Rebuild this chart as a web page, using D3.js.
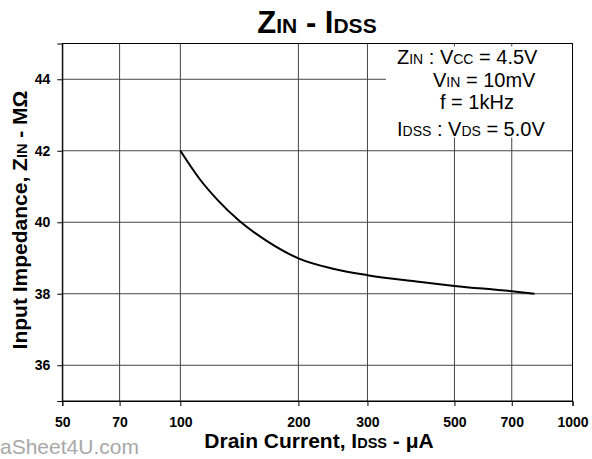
<!DOCTYPE html>
<html><head><meta charset="utf-8">
<script src="https://cdn.jsdelivr.net/npm/d3@7"></script>
<style>body{margin:0;background:#fff}svg{display:block;font-family:Arial,"Liberation Sans",sans-serif}</style>
</head><body>
<svg id="c" width="592" height="459"></svg>
<script>
// Data
const idss = [100, 112, 124, 142, 166, 200, 245, 300, 400, 500, 700, 800];
const zin  = [42.0, 41.21, 40.64, 40.02, 39.48, 38.99, 38.70, 38.52, 38.34, 38.22, 38.07, 38.0];
const xTicks = [50, 70, 100, 200, 300, 500, 700, 1000];
const yTicks = [36, 38, 40, 42, 44];
const xGrid = [70, 100, 200, 300, 500, 700];

const svg = d3.select("#c");
const L = 62.3, R = 572.5, T = 43.5, B = 401;
const x = d3.scaleLog().domain([50, 1000]).range([L, R]);
const y = d3.scaleLinear().domain([35, 45]).range([B, T]);

// grid
svg.append("g").selectAll("line").data(xGrid).join("line")
  .attr("x1", d => x(d)).attr("x2", d => x(d)).attr("y1", T).attr("y2", B)
  .attr("stroke", "#444").attr("stroke-width", 1);
svg.append("g").selectAll("line").data(yTicks).join("line")
  .attr("x1", L).attr("x2", R).attr("y1", d => y(d)).attr("y2", d => y(d))
  .attr("stroke", "#444").attr("stroke-width", 1);

// legend box background (covers grid)
svg.append("rect").attr("x", 386).attr("y", 46.5).attr("width", 186).attr("height", 91).attr("fill", "#fff");

// frame
svg.append("rect").attr("x", L).attr("y", T).attr("width", R - L).attr("height", B - T)
  .attr("fill", "none").attr("stroke", "#000").attr("stroke-width", 1);

// axes
const xAxis = d3.axisBottom(x).tickValues(xTicks).tickFormat(d3.format("d")).tickSize(5).tickPadding(11);
const gx = svg.append("g").attr("transform", `translate(0,${B})`).call(xAxis);
gx.select(".domain").attr("stroke", "#000");
gx.selectAll("text").attr("font-size", 14).attr("font-weight", "bold").attr("fill", "#000")
  .attr("font-family", "Arial, 'Liberation Sans', sans-serif");

const yAxis = d3.axisLeft(y).tickValues(yTicks).tickFormat(d3.format("d")).tickSize(5).tickPadding(7);
const gy = svg.append("g").attr("transform", `translate(${L},0)`).call(yAxis);
gy.select(".domain").attr("stroke", "#000");
gy.selectAll("text").attr("font-size", 14).attr("font-weight", "bold").attr("fill", "#000")
  .attr("font-family", "Arial, 'Liberation Sans', sans-serif");

// curve
const pts = idss.map((d, i) => [d, zin[i]]);
svg.append("path").datum(pts)
  .attr("d", d3.line().x(d => x(d[0])).y(d => y(d[1])).curve(d3.curveMonotoneX))
  .attr("fill", "none").attr("stroke", "#000").attr("stroke-width", 2);

// helper for mixed-size text
function rich(parent, parts, attrs) {
  const t = parent.append("text");
  for (const k in attrs) t.attr(k, attrs[k]);
  parts.forEach(p => t.append("tspan").attr("font-size", p[1]).text(p[0]));
  return t;
}

// title
rich(svg, [["Z", 31], ["IN", 21], [" - I", 31], ["DSS", 21]],
  {x: 317, y: 33, "text-anchor": "middle", "font-weight": "bold", fill: "#000"});

// legend text
const lg = svg.append("g").attr("fill", "#000");
rich(lg, [["Z", 20], ["IN", 14], [" : V", 20], ["CC", 14], [" = 4.5V", 20]], {x: 397, y: 64});
rich(lg, [["V", 20], ["IN", 14], [" = 10mV", 20]], {x: 433, y: 87});
rich(lg, [["f = 1kHz", 20]], {x: 440, y: 109});
rich(lg, [["I", 20], ["DSS", 14], [" : V", 20], ["DS", 14], [" = 5.0V", 20]], {x: 397, y: 136});

// axis titles
rich(svg, [["Drain Current, I", 21], ["DSS", 14.5], [" - μA", 21]],
  {x: 319, y: 448, "text-anchor": "middle", "font-weight": "bold", fill: "#000"});
rich(svg, [["Input Impedance, Z", 21], ["IN", 14.5], [" - MΩ", 21]],
  {transform: "translate(27,220) rotate(-90)", "text-anchor": "middle", "font-weight": "bold", fill: "#000"});

// watermark
svg.append("text").attr("x", 0).attr("y", 454)
  .attr("font-size", 21).attr("fill", "#a8a8a8").text("aSheet4U.com");
</script>
</body></html>
